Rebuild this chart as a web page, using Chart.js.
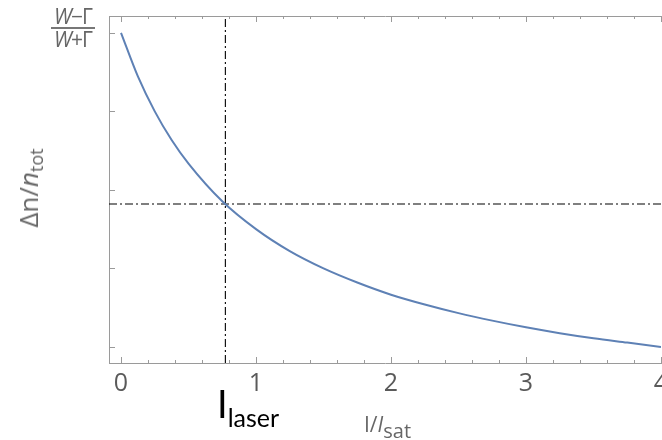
<!DOCTYPE html>
<html>
<head>
<meta charset="utf-8">
<script src="https://cdn.jsdelivr.net/npm/chart.js@4.4.1/dist/chart.umd.min.js"></script>
<style>
  html,body{margin:0;padding:0;background:#fff;}
  #wrap{position:relative;width:662px;height:440px;overflow:hidden;}
  canvas{position:absolute;left:0;top:0;}
  .lbl{position:absolute;white-space:nowrap;}
  #frac{left:51px;top:6px;width:44px;text-align:center;font:21px 'Open Sans';color:#666;line-height:21px;letter-spacing:-1px;}
  #frac .num{border-bottom:2px solid #777;padding-bottom:0px;}
  #ytitle{left:29px;top:188px;transform:translate(-50%,-50%) rotate(-90deg);font:26px 'Open Sans';color:#666;}
  #ytitle sub{font-size:18px;vertical-align:-5px;}
  #xtitle{left:364px;top:410px;font:21px 'Open Sans';color:#666;}
  #xtitle sub{font-size:20px;vertical-align:-6px;}
  #ilaser{left:217px;top:380px;font:38px Lato;color:#000;}
  #ilaser sub{font-size:25px;vertical-align:-9px;}
</style>
</head>
<body>
<div id="wrap">
  <canvas id="c" width="662" height="440"></canvas>
  <div class="lbl" id="frac"><div class="num"><i>W</i>−Γ</div><div><i>W</i>+Γ</div></div>
  <div class="lbl" id="ytitle">Δn/<i>n</i><sub>tot</sub></div>
  <div class="lbl" id="xtitle">I/<i>I</i><sub>sat</sub></div>
  <div class="lbl" id="ilaser">I<sub>laser</sub></div>
</div>
<script>
// Data: normalized Δn/n_tot vs I/I_sat
const intensity = [0, 0.125, 0.25, 0.375, 0.5, 0.75, 1, 1.25, 1.5, 1.75, 2, 2.25, 2.5, 2.75, 3, 3.25, 3.5, 3.75, 4];
const population = [1.0, 0.889, 0.80, 0.727, 0.667, 0.571, 0.50, 0.444, 0.40, 0.364, 0.333, 0.308, 0.286, 0.267, 0.25, 0.235, 0.222, 0.211, 0.20];
const xTickValues = [0, 1, 2, 3, 4];
const xTickLabels = ['0', '1', '2', '3', '4'];
const yTickValues = [0.2, 0.4, 0.6, 0.8, 1.0];
const laserIntensity = 0.773;
const laserPopulation = 0.564;
const xMin = -0.089, xMax = 4.0;
const yMin = 0.159, yMax = 1.043;

const curve = intensity.map((x, i) => ({x: x, y: population[i]}));
const vLine = [{x: laserIntensity, y: yMin}, {x: laserIntensity, y: yMax}];
const hLine = [{x: xMin, y: laserPopulation}, {x: xMax, y: laserPopulation}];

const frameColor = '#9a9a9a';

const tickPlugin = {
  id: 'innerTicks',
  afterDraw(chart) {
    const ctx = chart.ctx;
    const xs = chart.scales.x, ys = chart.scales.y;
    const a = chart.chartArea;
    ctx.save();
    ctx.strokeStyle = frameColor;
    ctx.lineWidth = 1;
    ctx.beginPath();
    for (let k = 0; k <= 20; k++) {
      const v = k * 0.2;
      const major = (k % 5 === 0);
      const len = major ? 6 : 3;
      const px = Math.round(xs.getPixelForValue(v)) + 0.5;
      ctx.moveTo(px, a.bottom); ctx.lineTo(px, a.bottom - len);
      ctx.moveTo(px, a.top); ctx.lineTo(px, a.top + len);
    }
    yTickValues.forEach(v => {
      const py = Math.round(ys.getPixelForValue(v)) + 0.5;
      ctx.moveTo(a.left, py); ctx.lineTo(a.left + 6, py);
    });
    ctx.stroke();
    ctx.restore();
  }
};

const noPad = s => { s.paddingLeft = 0; s.paddingRight = 0; s.paddingTop = 0; s.paddingBottom = 0; };

new Chart(document.getElementById('c'), {
  type: 'scatter',
  data: {
    datasets: [
      {data: curve, showLine: true, borderColor: '#5E81B5', borderWidth: 2, pointRadius: 0, cubicInterpolationMode: 'monotone', fill: false},
      {data: vLine, showLine: true, borderColor: '#000', borderWidth: 1.1, borderDash: [8, 3, 2, 3], pointRadius: 0},
      {data: hLine, showLine: true, borderColor: '#000', borderWidth: 1.1, borderDash: [8, 3, 2, 3], pointRadius: 0}
    ]
  },
  options: {
    responsive: false,
    animation: false,
    devicePixelRatio: 1,
    layout: {autoPadding: false, padding: {left: 0, right: 1, top: 0, bottom: 0}},
    plugins: {legend: {display: false}, tooltip: {enabled: false}},
    scales: {
      x: {
        type: 'linear', position: 'bottom', min: xMin, max: xMax,
        grid: {display: true, drawOnChartArea: false, drawTicks: false},
        border: {display: true, color: frameColor, width: 1},
        afterBuildTicks: s => { s.ticks = xTickValues.map(v => ({value: v})); },
        ticks: {
          padding: 6, color: '#5a5a5a', font: {family: 'Open Sans', size: 25}, maxRotation: 0,
          callback: (v) => { const i = xTickValues.indexOf(v); return i >= 0 ? xTickLabels[i] : ''; }
        },
        afterFit: s => { s.height = 77; noPad(s); }
      },
      x2: {
        type: 'linear', position: 'top', min: xMin, max: xMax,
        grid: {display: true, drawOnChartArea: false, drawTicks: false},
        border: {display: true, color: frameColor, width: 1},
        ticks: {display: false},
        afterFit: s => { s.height = 16; noPad(s); }
      },
      y: {
        type: 'linear', position: 'left', min: yMin, max: yMax,
        grid: {display: true, drawOnChartArea: false, drawTicks: false},
        border: {display: true, color: frameColor, width: 1},
        ticks: {display: false},
        afterFit: s => { s.width = 109; noPad(s); }
      }
    }
  },
  plugins: [tickPlugin]
});
</script>
</body>
</html>
